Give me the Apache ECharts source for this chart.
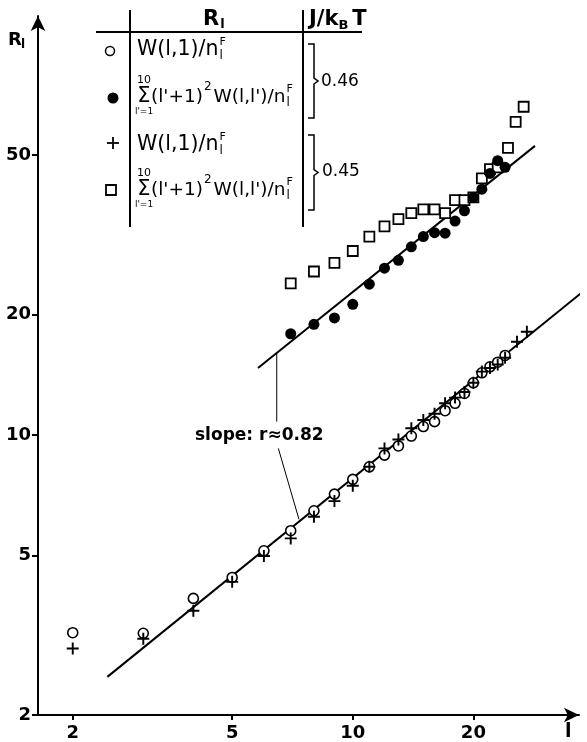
<!DOCTYPE html>
<html>
<head>
<meta charset="utf-8">
<script src="https://cdn.jsdelivr.net/npm/echarts@6/dist/echarts.min.js"></script>
<style>
html, body { margin: 0; background: #fff; }
#chart { width: 587px; height: 742px; }
</style>
</head>
<body>
<div id="chart"></div>
<script>
// values
const xTicks = [2, 5, 10, 20];
const yTicks = [2, 5, 10, 20, 50];

// open circles: W(l,1)/n_l^F, J/kT = 0.46
const lOpen = [2, 3, 4, 5, 6, 7, 8, 9, 10, 11, 12, 13, 14, 15, 16, 17, 18, 19, 20, 21, 22, 23, 24];
const rOpen = [3.21, 3.20, 3.91, 4.41, 5.14, 5.77, 6.47, 7.12, 7.75, 8.33, 8.91, 9.39, 9.94, 10.5, 10.8, 11.5, 12.0, 12.7, 13.5, 14.3, 14.8, 15.2, 15.8];

// filled circles: sum, J/kT = 0.46
const lFilled = [7, 8, 9, 10, 11, 12, 13, 14, 15, 16, 17, 18, 19, 20, 21, 22, 23, 24];
const rFilled = [17.9, 18.9, 19.6, 21.2, 23.8, 26.1, 27.3, 29.5, 31.3, 32.0, 31.9, 34.2, 36.3, 39.2, 41.1, 45.0, 48.4, 46.6];

// plus: W(l,1)/n_l^F, J/kT = 0.45
const lPlus = [2, 3, 4, 5, 6, 7, 8, 9, 10, 11, 12, 13, 14, 15, 16, 17, 18, 19, 20, 21, 22, 23, 24, 25.7, 27.2];
const rPlus = [2.93, 3.10, 3.64, 4.30, 4.99, 5.52, 6.25, 6.84, 7.47, 8.33, 9.26, 9.75, 10.4, 10.9, 11.3, 12.0, 12.4, 12.8, 13.5, 14.4, 14.7, 15.0, 15.6, 17.1, 18.1];

// open squares: sum, J/kT = 0.45
const lSquare = [7, 8, 9, 10, 11, 12, 13, 14, 15, 16, 17, 18, 19, 20, 21, 22, 23, 24.4, 25.5, 26.7];
const rSquare = [23.9, 25.6, 26.9, 28.8, 31.3, 33.2, 34.6, 35.8, 36.6, 36.6, 35.8, 38.6, 38.6, 39.2, 43.7, 46.1, 46.6, 52.1, 60.5, 66.0];

// fitted lines, slope r ~ 0.82
const upperFit = [[5.8, 14.7], [28.5, 52.7]];
const lowerFit = [[2.44, 2.49], [40, 24.0]];
// leader lines from the slope label
const leaderUp = [[6.46, 16.0], [6.46, 10.8]];
const leaderDown = [[6.52, 9.26], [7.34, 6.16]];

const pairs = (xs, ys) => xs.map((x, i) => [x, ys[i]]);
const FONT = '"DejaVu Sans", sans-serif';
const plusPath = 'path://M4.2,0H5.8V4.2H10V5.8H5.8V10H4.2V5.8H0V4.2H4.2Z';

const ctx = document.createElement('canvas').getContext('2d');
function fnt(size, weight) { return (weight || 'normal') + ' ' + size + 'px ' + FONT; }
function tw(text, size, weight) { ctx.font = fnt(size, weight); return ctx.measureText(text).width; }

function txt(x, y, text, size, weight, align) {
  return {
    type: 'text', x: x, y: y, z: 100,
    style: {
      text: text, fill: '#000',
      font: fnt(size, weight),
      align: align || 'left', textAlign: align || 'left',
      verticalAlign: 'middle', textVerticalAlign: 'middle'
    }
  };
}
function ln(x1, y1, x2, y2, w) {
  return { type: 'line', z: 100, shape: { x1: x1, y1: y1, x2: x2, y2: y2 }, style: { stroke: '#000', lineWidth: w || 2 } };
}
function bracket(y1, y2) {
  const m = (y1 + y2) / 2;
  return {
    type: 'polyline', z: 100,
    shape: { points: [[308, y1], [314, y1], [314, m - 3], [318, m], [314, m + 3], [314, y2], [308, y2]] },
    style: { stroke: '#000', fill: null, lineWidth: 1.5 }
  };
}
const FS = 20.5;
const FS_SUM = 18.5;
// n with stacked sub l and sup F
function nTail(x, y) {
  return [txt(x, y - 8, 'F', 11), txt(x, y + 6, 'l', 12)];
}
function simpleRow(y) {
  const s = 'W(l,1)/n';
  return [txt(137, y, s, FS)].concat(nTail(137 + tw(s, FS) + 1, y));
}
function sumRow(y) {
  const a = "(l'+1)", b = "W(l,l')/n";
  const xa = 151, xs = xa + tw(a, FS_SUM) + 1, xb = xs + tw('2', 12) + 2;
  return [
    txt(144, y - 17, '10', 11, 'normal', 'center'),
    txt(144, y, '\u03A3', 21, 'normal', 'center'),
    txt(144, y + 15, "l'=1", 9, 'normal', 'center'),
    txt(xa, y, a, FS_SUM),
    txt(xs, y - 10, '2', 12),
    txt(xb, y, b, FS_SUM)
  ].concat(nTail(xb + tw(b, FS_SUM) + 1, y));
}
function header() {
  const x1 = 309, xB = x1 + tw('J/k', 21, 'bold'), xT = xB + tw('B', 13, 'bold') + 4;
  return [
    txt(203, 20, 'R', 21, 'bold'),
    txt(203 + tw('R', 21, 'bold') + 1, 25, 'l', 13, 'bold'),
    txt(x1, 20, 'J/k', 21, 'bold'),
    txt(xB, 26, 'B', 13, 'bold'),
    txt(xT, 20, 'T', 21, 'bold')
  ];
}

const graphics = [
  // table frame
  ln(130, 10, 130, 227, 2),
  ln(303, 10, 303, 227, 2),
  ln(96, 32, 362, 32, 2),
  ...header(),
  // legend symbols
  { type: 'circle', z: 100, shape: { cx: 110, cy: 51, r: 4.5 }, style: { stroke: '#000', fill: '#fff', lineWidth: 1.5 } },
  { type: 'circle', z: 100, shape: { cx: 113, cy: 98, r: 5.5 }, style: { fill: '#000' } },
  ln(107, 143, 119, 143, 1.8),
  ln(113, 137, 113, 149, 1.8),
  { type: 'rect', z: 100, shape: { x: 106, y: 185, width: 10, height: 10 }, style: { stroke: '#000', fill: '#fff', lineWidth: 1.8 } },
  ...simpleRow(50),
  ...sumRow(97),
  ...simpleRow(145),
  ...sumRow(190),
  bracket(44, 118),
  bracket(135, 210),
  txt(321, 82, '0.46', 17),
  txt(322, 172, '0.45', 17),
  // axis names
  txt(8, 40, 'R', 18, 'bold'),
  txt(21, 45, 'l', 12, 'bold'),
  txt(565, 732, 'l', 19, 'bold'),
  // slope label
  txt(195, 436, 'slope: r\u22480.82', 17, 'bold')
];

const chart = echarts.init(document.getElementById('chart'));

const axisCommon = {
  type: 'log',
  logBase: 10,
  axisLine: {
    show: true, onZero: false,
    symbol: ['none', 'arrow'], symbolSize: [11, 15],
    lineStyle: { color: '#000', width: 2 }
  },
  splitLine: { show: false },
  minorTick: { show: false },
  axisLabel: { color: '#000', fontSize: 18, fontWeight: 'bold', fontFamily: FONT, formatter: v => String(v) }
};

const option = {
  animation: false,
  backgroundColor: '#fff',
  grid: { left: 38, right: 8, top: 16, bottom: 27 },
  xAxis: Object.assign({}, axisCommon, {
    min: 1.638, max: 36.7,
    axisTick: { show: true, length: 5, customValues: xTicks, lineStyle: { color: '#000', width: 2 } },
    axisLabel: Object.assign({}, axisCommon.axisLabel, { customValues: xTicks, margin: 9 })
  }),
  yAxis: Object.assign({}, axisCommon, {
    min: 2, max: 111.2,
    axisTick: { show: true, length: 6, customValues: yTicks, lineStyle: { color: '#000', width: 2 } },
    axisLabel: Object.assign({}, axisCommon.axisLabel, { customValues: yTicks, margin: 7 })
  }),
  graphic: graphics,
  series: [
    { type: 'line', data: upperFit, symbol: 'none', clip: false, lineStyle: { color: '#000', width: 2 }, z: 1 },
    { type: 'line', data: lowerFit, symbol: 'none', clip: false, lineStyle: { color: '#000', width: 2 }, z: 1 },
    { type: 'line', data: leaderUp, symbol: 'none', lineStyle: { color: '#000', width: 1 }, z: 1 },
    { type: 'line', data: leaderDown, symbol: 'none', lineStyle: { color: '#000', width: 1 }, z: 1 },
    { type: 'scatter', data: pairs(lSquare, rSquare), symbol: 'rect', symbolSize: 10,
      itemStyle: { color: '#fff', borderColor: '#000', borderWidth: 1.8, opacity: 1 }, z: 3 },
    { type: 'scatter', data: pairs(lFilled, rFilled), symbol: 'circle', symbolSize: 11,
      itemStyle: { color: '#000', opacity: 1 }, z: 4 },
    { type: 'scatter', data: pairs(lOpen, rOpen), symbol: 'circle', symbolSize: 10,
      itemStyle: { color: '#fff', borderColor: '#000', borderWidth: 1.6, opacity: 1 }, z: 3 },
    { type: 'scatter', data: pairs(lPlus, rPlus), symbol: plusPath, symbolSize: 12,
      itemStyle: { color: '#000', opacity: 1 }, z: 4 }
  ]
};

chart.setOption(option);
</script>
</body>
</html>
